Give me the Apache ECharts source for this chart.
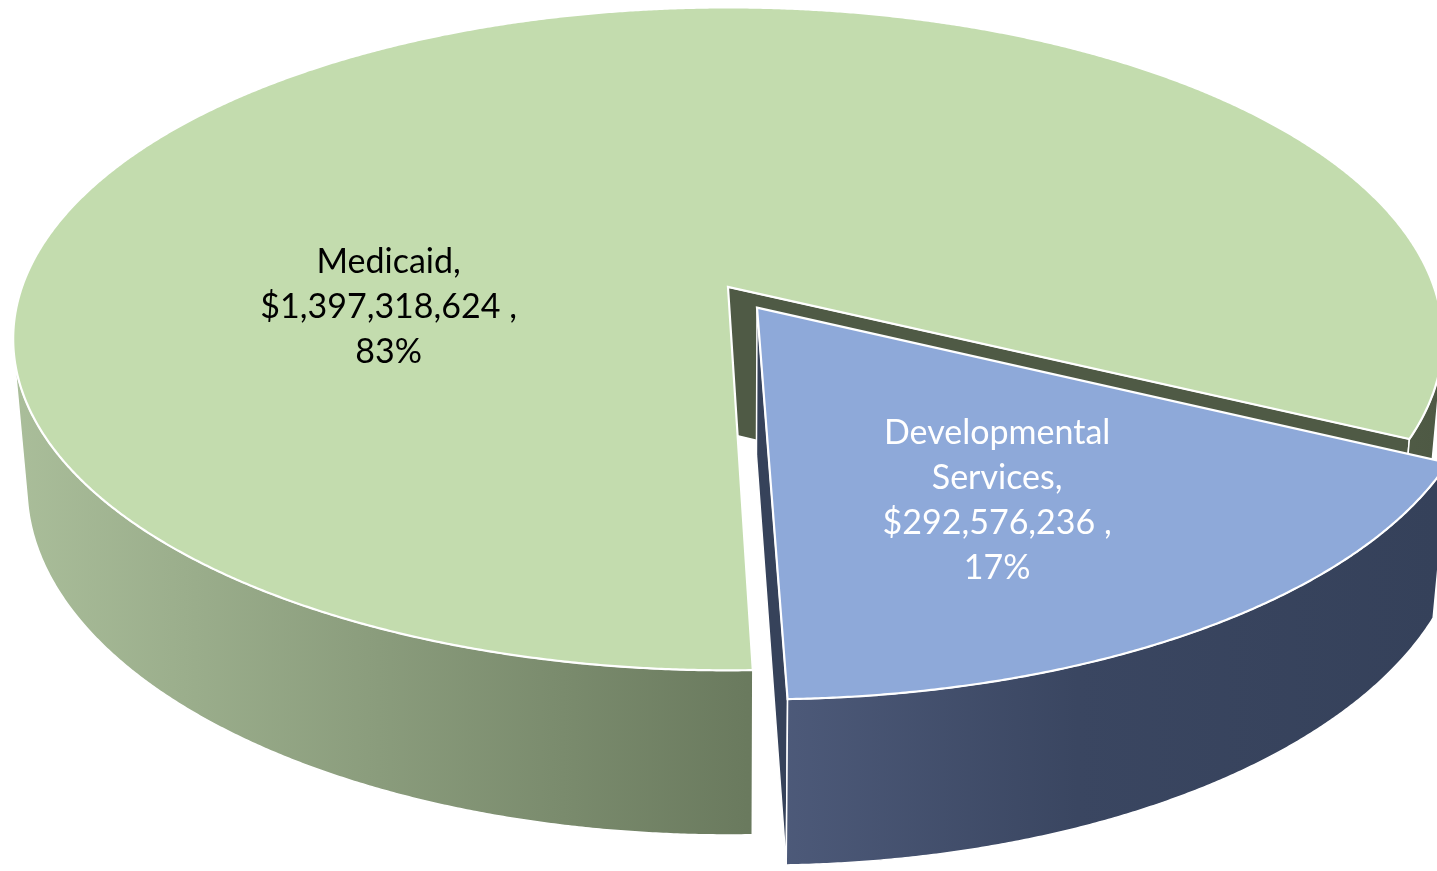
<!DOCTYPE html>
<html>
<head>
<meta charset="utf-8">
<script src="https://cdn.jsdelivr.net/npm/echarts@6/dist/echarts.min.js"></script>
<style>
  html, body { margin: 0; padding: 0; background: #ffffff; }
  #chart { width: 1437px; height: 871px; }
</style>
</head>
<body>
<div id="chart"></div>
<script>
// Funding split between the two programs
const categories = ['Medicaid', 'Developmental Services'];
const values = [1397318624, 292576236];

// Slice appearance
const topColors = ['#c3dcae', '#8ea9d9'];
const cutColors = ['#4f5a45', '#36425a'];
const wallStops = [
  [[0, '#abbf9b'], [0.52, '#6a7a5e'], [1, '#4e5944']],
  [[0.52, '#4f5c7c'], [0.75, '#3a4661'], [1, '#35415a']]
];
const labelColors = ['#000000', '#ffffff'];
const explodeDist = [0, 0.075];
// label spot on the top face: radius fraction and angle in degrees
const labelSpots = [{ r: 0.48, deg: 172.7 }, { r: 0.617, deg: 60.4 }];

// 3D view of the pie
const VIEW = {
  startDeg: 88.3,     // where the first slice begins, clockwise on screen
  sinT: 0.458,        // camera elevation
  dist: 5.68,         // camera distance (in pie radii)
  thickness: 0.238,   // pie height (in pie radii)
  step: 0.25          // rim sampling, degrees
};

const total = values.reduce((a, b) => a + b, 0);
const rad = d => d * Math.PI / 180;

function renderSlice(params, api) {
  const i = params.dataIndex;
  const v = api.value(0);
  const W = api.getWidth(), H = api.getHeight();
  const cx = W * 0.5066, cy = H * 0.3295;
  const sinT = VIEW.sinT, cosT = Math.sqrt(1 - sinT * sinT);
  const D = VIEW.dist;
  const f = W * 0.4913 * D;
  const t = VIEW.thickness;
  const camZ = D * cosT;

  function project(X, Y, Z) {
    const depth = D - (Y * sinT + Z * cosT);
    return [cx + f * X / depth, cy - f * (Y * cosT - Z * sinT) / depth];
  }

  let before = 0;
  for (let k = 0; k < i; k++) before += values[k];
  const a0 = VIEW.startDeg + 360 * before / total;
  const a1 = a0 + 360 * v / total;
  const mid = rad((a0 + a1) / 2);
  const ox = explodeDist[i] * Math.cos(mid);
  const oz = explodeDist[i] * Math.sin(mid);

  const rim = (deg, Y) => project(ox + Math.cos(rad(deg)), Y, oz + Math.sin(rad(deg)));
  const children = [];

  // sample angles across the slice
  const angles = [];
  for (let d = a0; d < a1; d += VIEW.step) angles.push(d);
  angles.push(a1);

  // radial cut faces turned toward the camera
  [[a0, 1], [a1, -1]].forEach(([deg, sgn]) => {
    const th = rad(deg);
    const nx = sgn * Math.sin(th), nz = -sgn * Math.cos(th);
    if (nx * (0 - ox) + nz * (camZ - oz) > 0) {
      children.push({
        type: 'polygon',
        shape: { points: [project(ox, 0, oz), rim(deg, 0), rim(deg, -t), project(ox, -t, oz)] },
        style: { fill: cutColors[i], stroke: '#ffffff', lineWidth: 1.5 }
      });
    }
  });

  // outer wall: contiguous runs of rim facing the camera
  const runs = [];
  let run = null;
  angles.forEach(deg => {
    const th = rad(deg);
    const px = ox + Math.cos(th), pz = oz + Math.sin(th);
    const facing = Math.cos(th) * (0 - px) + Math.sin(th) * (camZ - pz) > 0;
    if (facing) { if (!run) { run = []; runs.push(run); } run.push(deg); }
    else run = null;
  });
  const wallFill = new echarts.graphic.LinearGradient(0, 0, W, 0,
    wallStops[i].map(s => ({ offset: s[0], color: s[1] })), true);
  runs.forEach(r => {
    if (r.length < 2) return;
    const pts = r.map(d => rim(d, 0)).concat(r.slice().reverse().map(d => rim(d, -t)));
    children.push({
      type: 'polygon',
      shape: { points: pts },
      style: { fill: wallFill, stroke: '#ffffff', lineWidth: 1.5 }
    });
  });

  // top face
  const topPts = [project(ox, 0, oz)].concat(angles.map(d => rim(d, 0)));
  children.push({
    type: 'polygon',
    shape: { points: topPts },
    style: { fill: topColors[i], stroke: '#ffffff', lineWidth: 2.2, lineJoin: 'miter' }
  });

  // data label
  const spot = labelSpots[i];
  const ld = rad(spot.deg);
  const lp = project(ox + spot.r * Math.cos(ld), 0, oz + spot.r * Math.sin(ld));
  const pct = Math.round(v / total * 100);
  const text = categories[i].replace(' ', '\n') + ',\n$' + v.toLocaleString('en-US') + ' ,\n' + pct + '%';
  children.push({
    type: 'text',
    style: {
      text: text, x: lp[0], y: lp[1],
      fill: labelColors[i],
      fontSize: 34, fontFamily: 'Lato', lineHeight: 45,
      align: 'center', verticalAlign: 'middle'
    }
  });

  return { type: 'group', children: children };
}

const chart = echarts.init(document.getElementById('chart'), null, { renderer: 'canvas' });
chart.setOption({
  backgroundColor: '#ffffff',
  animation: false,
  series: [{
    type: 'custom',
    coordinateSystem: 'none',
    renderItem: renderSlice,
    data: values.map((v, k) => ({ name: categories[k], value: [v] }))
  }]
});
</script>
</body>
</html>
